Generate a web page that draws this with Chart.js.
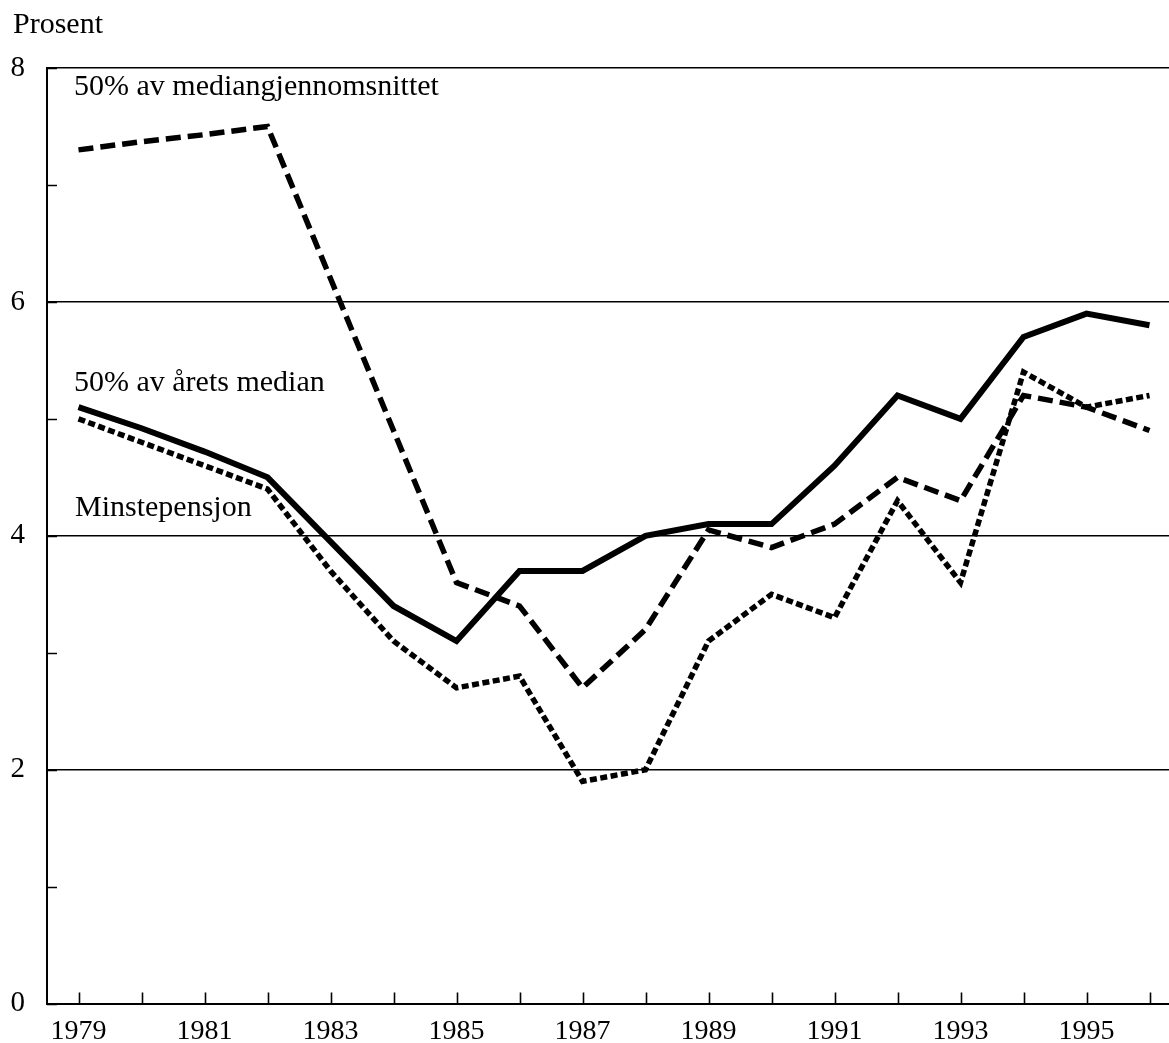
<!DOCTYPE html>
<html>
<head>
<meta charset="utf-8">
<script src="https://cdn.jsdelivr.net/npm/chart.js@4"></script>
<style>
  html, body { margin: 0; padding: 0; background: #fff; overflow: hidden; }
  #myChart { display: block; }
</style>
</head>
<body>
<canvas id="myChart" width="1181" height="1043"></canvas>
<script>
var years = ["1979", "1980", "1981", "1982", "1983", "1984", "1985", "1986", "1987",
    "1988", "1989", "1990", "1991", "1992", "1993", "1994", "1995", "1996"];

// 50% av årets median
var aretsMedian = [5.1, 4.92, 4.72, 4.5, 3.95, 3.4, 3.1, 3.7, 3.7,
    4.0, 4.1, 4.1, 4.6, 5.2, 5.0, 5.7, 5.9, 5.8];

// 50% av mediangjennomsnittet
var medianSnitt = [7.3, 7.37, 7.43, 7.5, 6.2, 4.9, 3.6, 3.4, 2.7,
    3.2, 4.05, 3.9, 4.1, 4.5, 4.3, 5.2, 5.1, 4.9];

// Minstepensjon
var minstepensjon = [5.0, 4.8, 4.6, 4.4, 3.7, 3.1, 2.7, 2.8, 1.9,
    2.0, 3.1, 3.5, 3.3, 4.3, 3.6, 5.4, 5.1, 5.2];

var yTicks = [0, 1, 2, 3, 4, 5, 6, 7, 8];

var serif = "'Liberation Serif', 'Times New Roman', serif";

// small inward ticks + text labels
var extras = {
    id: "extras",
    afterDatasetsDraw: function (chart) {
        var ctx = chart.ctx;
        var xs = chart.scales.x;
        var ys = chart.scales.y;
        var area = chart.chartArea;

        ctx.save();
        ctx.strokeStyle = "#000";
        ctx.lineWidth = 1.6;
        ctx.beginPath();
        for (var i = 0; i < years.length; i++) {
            var px = Math.round(xs.getPixelForValue(i)) + 0.5;
            ctx.moveTo(px, area.bottom);
            ctx.lineTo(px, area.bottom - 11);
        }
        for (var j = 0; j < yTicks.length; j++) {
            var py = Math.round(ys.getPixelForValue(yTicks[j])) + 0.5;
            ctx.moveTo(area.left, py);
            ctx.lineTo(area.left + 10, py);
        }
        ctx.stroke();

        ctx.fillStyle = "#000";
        ctx.textAlign = "left";
        ctx.textBaseline = "alphabetic";
        ctx.font = "30px " + serif;
        ctx.fillText("Prosent", 13, 33);
        ctx.fillText("50% av mediangjennomsnittet", area.left + 27, 95);
        ctx.fillText("50% av årets median", area.left + 27, 391);
        ctx.fillText("Minstepensjon", area.left + 28, 516);
        ctx.restore();
    }
};

var ctx = document.getElementById("myChart");
var myChart = new Chart(ctx, {
    type: "line",
    data: {
        labels: years,
        datasets: [{
            label: "50% av årets median",
            data: aretsMedian,
            borderColor: "#000",
            borderWidth: 6,
            pointRadius: 0,
            tension: 0,
            fill: false
        }, {
            label: "50% av mediangjennomsnittet",
            data: medianSnitt,
            borderColor: "#000",
            borderWidth: 5.5,
            borderDash: [15, 7],
            pointRadius: 0,
            tension: 0,
            fill: false
        }, {
            label: "Minstepensjon",
            data: minstepensjon,
            borderColor: "#000",
            borderWidth: 5.5,
            borderDash: [7, 3.5],
            pointRadius: 0,
            tension: 0,
            fill: false
        }]
    },
    options: {
        responsive: false,
        animation: false,
        layout: { padding: { top: 68, right: 0, left: 0, bottom: 0 } },
        plugins: {
            legend: { display: false },
            tooltip: { enabled: false }
        },
        scales: {
            x: {
                type: "category",
                offset: true,
                grid: { display: false, drawTicks: false, offset: false },
                border: { display: true, color: "#000", width: 2 },
                ticks: {
                    autoSkip: false,
                    maxRotation: 0,
                    padding: 11,
                    color: "#000",
                    font: { family: serif, size: 28 },
                    callback: function (val, i) {
                        return i % 2 === 0 ? years[i] : "";
                    }
                },
                afterFit: function (s) { s.height = 37; }
            },
            y: {
                min: 0,
                max: 8,
                grid: {
                    drawTicks: false,
                    lineWidth: 1.5,
                    color: function (c) {
                        var v = c.tick && c.tick.value;
                        return (v > 0 && v % 2 === 0) ? "#000" : "rgba(0,0,0,0)";
                    }
                },
                border: { display: true, color: "#000", width: 2 },
                ticks: {
                    stepSize: 1,
                    padding: 22,
                    color: "#000",
                    font: { family: serif, size: 29 },
                    callback: function (v) {
                        return v % 2 === 0 ? String(v) : "";
                    }
                },
                afterFit: function (s) { s.width = 47; }
            }
        }
    },
    plugins: [extras]
});
</script>
</body>
</html>
